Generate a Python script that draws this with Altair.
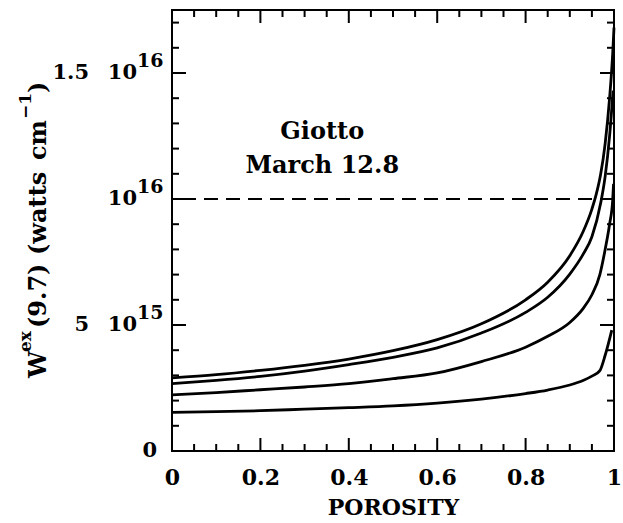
import altair as alt
import pandas as pd

# ---- data (W in units of 1e15 watts/cm) ----
porosity_1 = [0, 0.1, 0.2, 0.3, 0.4, 0.5, 0.6, 0.7, 0.8, 0.85, 0.9, 0.93, 0.95, 0.96, 0.97, 0.98, 0.99, 0.997, 1.0]
w_1 = [2.9, 3.03, 3.2, 3.4, 3.65, 3.98, 4.42, 5.05, 6.0, 6.7, 7.75, 8.7, 9.6, 10.2, 11.0, 12.2, 14.0, 15.75, 16.8]
porosity_2 = [0, 0.1, 0.2, 0.3, 0.4, 0.5, 0.6, 0.7, 0.8, 0.85, 0.9, 0.93, 0.95, 0.97, 0.98, 0.99, 0.998]
w_2 = [2.67, 2.8, 2.96, 3.17, 3.43, 3.72, 4.09, 4.68, 5.5, 6.1, 7.02, 7.8, 8.5, 9.85, 10.9, 12.5, 14.3]
porosity_3 = [0, 0.1, 0.2, 0.3, 0.4, 0.5, 0.6, 0.7, 0.8, 0.85, 0.9, 0.93, 0.95, 0.968, 0.98, 0.99, 0.997, 0.999]
w_3 = [2.23, 2.32, 2.43, 2.54, 2.67, 2.87, 3.1, 3.55, 4.12, 4.55, 5.1, 5.65, 6.2, 7.0, 8.0, 9.0, 9.95, 10.6]
porosity_4 = [0, 0.1, 0.2, 0.3, 0.4, 0.5, 0.6, 0.7, 0.8, 0.85, 0.9, 0.93, 0.95, 0.968, 0.98, 0.995]
w_4 = [1.53, 1.56, 1.6, 1.66, 1.72, 1.79, 1.9, 2.06, 2.28, 2.42, 2.62, 2.8, 2.97, 3.19, 3.8, 4.8]

dashed_level = [10.0]

x_major = [0, 0.2, 0.4, 0.6, 0.8, 1.0]
x_minor = [0.05, 0.1, 0.15, 0.25, 0.3, 0.35, 0.45, 0.5, 0.55, 0.65, 0.7, 0.75, 0.85, 0.9, 0.95]
y_major = [0, 5, 10, 15]
y_minor = [1, 2, 3, 4, 6, 7, 8, 9, 11, 12, 13, 14, 16, 17]

y_label_vals = [5, 10, 15]
y_label_mant = ["5", "", "1.5"]
y_label_pow = ["10", "10", "10"]
y_label_exp = ["15", "16", "16"]

note_x = [0.34, 0.34]
note_y = [12.39, 11.04]
note_text = ["Giotto", "March 12.8"]

# ---- tables ----
rows = []
for name, xs, ys in [("a", porosity_1, w_1), ("b", porosity_2, w_2),
                     ("c", porosity_3, w_3), ("d", porosity_4, w_4)]:
    for xv, yv in zip(xs, ys):
        rows.append({"curve": name, "porosity": xv, "w": yv})
curves = pd.DataFrame(rows)

FONT = "DejaVu Serif"
W, H = 442, 441

x_scale = alt.Scale(domain=[0, 1], nice=False, zero=False)
y_scale = alt.Scale(domain=[0, 17.5], nice=False, zero=False)
x_axis = alt.Axis(values=x_major, format=".1~f", ticks=False, domain=False, grid=False,
                  labelFont=FONT, labelFontWeight="bold", labelFontSize=22, labelColor="black",
                  labelPadding=16, labelFlush=False,
                  title="POROSITY", titleFont=FONT, titleFontWeight="bold", titleFontSize=22,
                  titleColor="black", titlePadding=9)


def X(field):
    return alt.X(field, type="quantitative", scale=x_scale, axis=x_axis)


def Y(field):
    return alt.Y(field, type="quantitative", scale=y_scale, axis=None)


lines = alt.Chart(curves).mark_line(color="black", strokeWidth=2.8, interpolate="monotone").encode(
    x=X("porosity"), y=Y("w"), detail="curve:N")

dash = alt.Chart(pd.DataFrame({"lvl": dashed_level})).mark_rule(
    color="black", strokeWidth=2, strokeDash=[14, 8]).encode(y=Y("lvl"))

xmaj = pd.DataFrame({"t": x_major})
xmin = pd.DataFrame({"t": x_minor})
ymaj = pd.DataFrame({"t": y_major})
ymin = pd.DataFrame({"t": y_minor})

tick_layers = []
for df, ln in [(xmaj, 13), (xmin, 7)]:
    tick_layers.append(alt.Chart(df).mark_rule(color="black", strokeWidth=2).encode(
        x=X("t"), y=alt.value(H), y2=alt.value(H - ln)))
    tick_layers.append(alt.Chart(df).mark_rule(color="black", strokeWidth=2).encode(
        x=X("t"), y=alt.value(0), y2=alt.value(ln)))
for df, ln in [(ymaj, 14), (ymin, 7)]:
    tick_layers.append(alt.Chart(df).mark_rule(color="black", strokeWidth=2).encode(
        y=Y("t"), x=alt.value(0), x2=alt.value(ln)))
    tick_layers.append(alt.Chart(df).mark_rule(color="black", strokeWidth=2).encode(
        y=Y("t"), x=alt.value(W), x2=alt.value(W - ln)))

ylab = pd.DataFrame({"v": y_label_vals, "m": y_label_mant, "p": y_label_pow, "e": y_label_exp})
lab_mant = alt.Chart(ylab).mark_text(font=FONT, fontWeight="bold", fontSize=21, align="right",
                                     baseline="middle", color="black").encode(
    y=Y("v"), x=alt.value(-83), text="m:N")
lab_pow = alt.Chart(ylab).mark_text(font=FONT, fontWeight="bold", fontSize=21, align="right",
                                    baseline="middle", color="black").encode(
    y=Y("v"), x=alt.value(-35), text="p:N")
lab_exp = alt.Chart(ylab).mark_text(font=FONT, fontWeight="bold", fontSize=19, align="left",
                                    baseline="middle", color="black", dy=-12).encode(
    y=Y("v"), x=alt.value(-35), text="e:N")
lab_zero = alt.Chart(pd.DataFrame({"v": [0], "s": ["0"]})).mark_text(
    font=FONT, fontWeight="bold", fontSize=21, align="right", baseline="middle", color="black").encode(
    y=Y("v"), x=alt.value(-15), text="s:N")

notes = alt.Chart(pd.DataFrame({"x": note_x, "y": note_y, "t": note_text})).mark_text(
    font=FONT, fontWeight="bold", fontSize=24, align="center", baseline="alphabetic", color="black").encode(
    x=X("x"), y=Y("y"), text="t:N")

# rotated y-axis title built from pieces (superscripts offset to the left)
dummy = pd.DataFrame({"k": [0]})
title_pieces = [("W", -133, 368, 24), ("ex", -146, 342, 17), ("(9.7)", -133, 318, 24),
                ("(watts", -133, 245, 24), ("cm", -133, 150, 24), ("\u22121", -146, 109, 17),
                (")", -133, 83, 24)]
title_layers = []
for txt, px, py, fs in title_pieces:
    title_layers.append(alt.Chart(dummy).mark_text(
        text=txt, font=FONT, fontWeight="bold", fontSize=fs, angle=270, align="left",
        baseline="middle", color="black").encode(x=alt.value(px), y=alt.value(py)))

chart = alt.layer(lines, dash, *tick_layers, lab_mant, lab_pow, lab_exp, lab_zero, notes,
                  *title_layers).properties(
    width=W, height=H,
    autosize=alt.AutoSizeParams(type="none"),
    padding={"left": 172, "top": 10, "right": 9, "bottom": 72},
    background="white",
).configure_view(stroke="black", strokeWidth=2)

chart.save("out.html", embed_options={"renderer": "svg", "actions": False})
